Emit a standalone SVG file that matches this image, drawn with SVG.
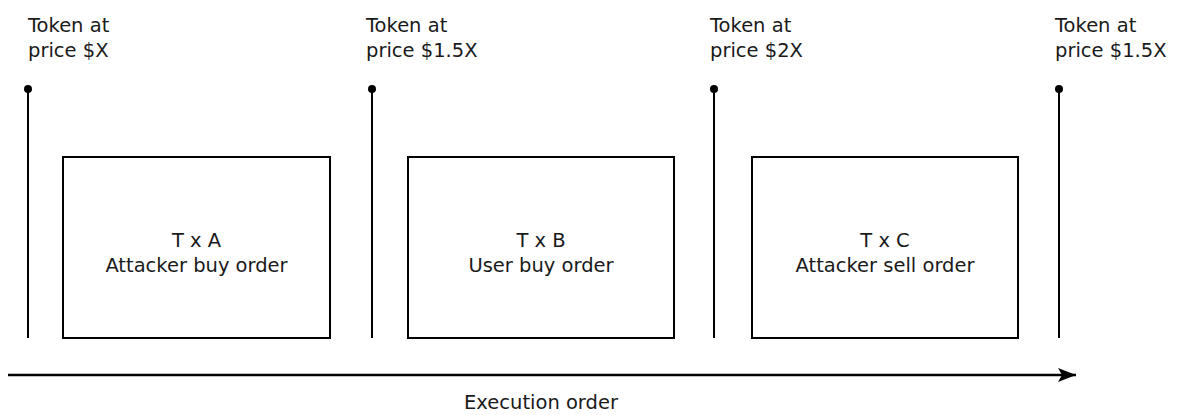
<svg xmlns="http://www.w3.org/2000/svg" width="1177" height="415" viewBox="0 0 1177 415">
<defs>
<marker id="ah" markerWidth="18" markerHeight="14" refX="18" refY="7" orient="auto" markerUnits="userSpaceOnUse">
<path d="M0,0 L18,7 L0,14 L4,7 Z" fill="#000"/>
</marker>
<style>
text{font-family:"DejaVu Sans","Noto Sans",sans-serif;font-size:19.5px;fill:#1a1a1a}
.c{text-anchor:middle}
.box{fill:#fff;stroke:#000;stroke-width:2}
.tl{stroke:#000;stroke-width:2}
</style>
</defs>
<rect width="1177" height="415" fill="#fff"/>
<g id="connectors">
<line class="tl" x1="28" y1="89" x2="28" y2="338"/>
<circle cx="28" cy="89" r="4"/>
<line class="tl" x1="372" y1="89" x2="372" y2="338"/>
<circle cx="372" cy="89" r="4"/>
<line class="tl" x1="714" y1="89" x2="714" y2="338"/>
<circle cx="714" cy="89" r="4"/>
<line class="tl" x1="1059" y1="89" x2="1059" y2="338"/>
<circle cx="1059" cy="89" r="4"/>
<line x1="8" y1="375" x2="1076" y2="375" stroke="#000" stroke-width="2.5" marker-end="url(#ah)"/>
</g>
<g id="label-x"><text><tspan x="28" y="32">Token at</tspan><tspan x="28" y="57">price $X</tspan></text></g>
<g id="label-15x"><text><tspan x="366" y="32">Token at</tspan><tspan x="366" y="57">price $1.5X</tspan></text></g>
<g id="label-2x"><text><tspan x="710" y="32">Token at</tspan><tspan x="710" y="57">price $2X</tspan></text></g>
<g id="label-15x-2"><text><tspan x="1055" y="32">Token at</tspan><tspan x="1055" y="57">price $1.5X</tspan></text></g>
<g id="txA"><rect class="box" x="63" y="157" width="267" height="181"/><text class="c"><tspan x="196.5" y="247">T x A</tspan><tspan x="196.5" y="272">Attacker buy order</tspan></text></g>
<g id="txB"><rect class="box" x="408" y="157" width="266" height="181"/><text class="c"><tspan x="541" y="247">T x B</tspan><tspan x="541" y="272">User buy order</tspan></text></g>
<g id="txC"><rect class="box" x="752" y="157" width="266" height="181"/><text class="c"><tspan x="885" y="247">T x C</tspan><tspan x="885" y="272">Attacker sell order</tspan></text></g>
<g id="exec"><text class="c" x="541" y="409">Execution order</text></g>
</svg>
